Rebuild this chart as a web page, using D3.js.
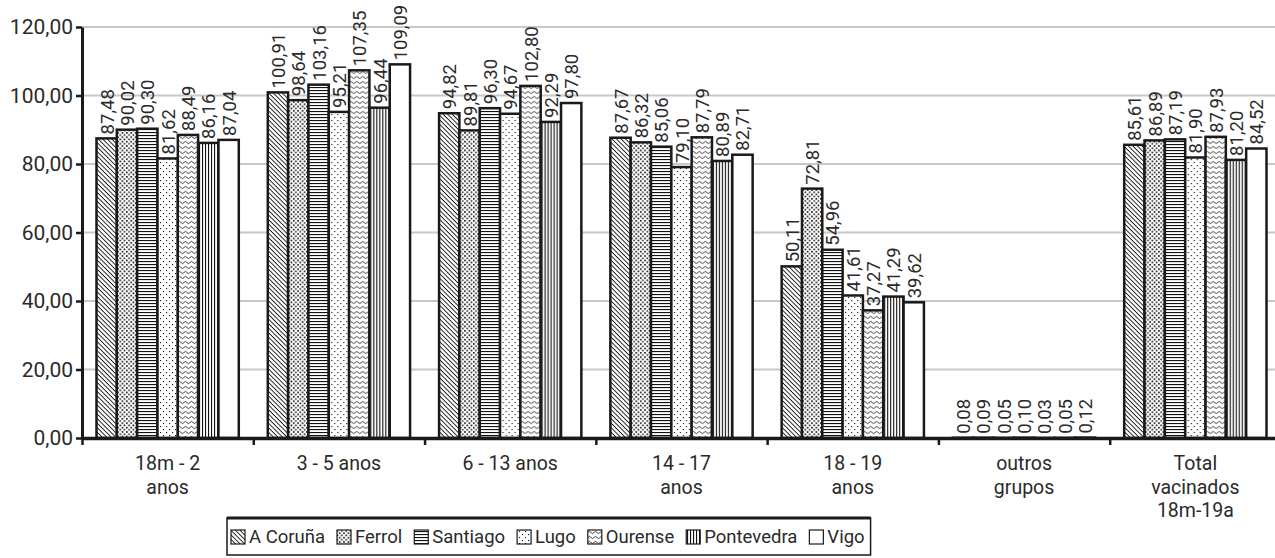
<!DOCTYPE html>
<html>
<head>
<meta charset="utf-8">
<script src="https://cdn.jsdelivr.net/npm/d3@7"></script>
<style>
  html, body { margin: 0; padding: 0; background: #fff; }
  svg { display: block; font-family: Roboto, "Liberation Sans", sans-serif; }
</style>
</head>
<body>
<svg id="chart" width="1275" height="558"></svg>
<script>
// categories on the x axis (each may hold several lines)
const groups = [
  ["18m - 2", "anos"],
  ["3 - 5 anos"],
  ["6 - 13 anos"],
  ["14 - 17", "anos"],
  ["18 - 19", "anos"],
  ["outros", "grupos"],
  ["Total", "vacinados", "18m-19a"]
];
const series = ["A Coruña", "Ferrol", "Santiago", "Lugo", "Ourense", "Pontevedra", "Vigo"];

// one array per area, in group order
const coruna     = [87.48, 100.91, 94.82, 87.67, 50.11, 0.08, 85.61];
const ferrol     = [90.02,  98.64, 89.81, 86.32, 72.81, 0.09, 86.89];
const santiago   = [90.30, 103.16, 96.30, 85.06, 54.96, 0.05, 87.19];
const lugo       = [81.62,  95.21, 94.67, 79.10, 41.61, 0.10, 81.90];
const ourense    = [88.49, 107.35, 102.80, 87.79, 37.27, 0.03, 87.93];
const pontevedra = [86.16,  96.44, 92.29, 80.89, 41.29, 0.05, 81.20];
const vigo       = [87.04, 109.09, 97.80, 82.71, 39.62, 0.12, 84.52];
const values = [coruna, ferrol, santiago, lugo, ourense, pontevedra, vigo];

const yTicks = [0, 20, 40, 60, 80, 100, 120];

const svg = d3.select("#chart");
const mLeft = 82, mRight = 1281, mTop = 27, mBottom = 438;
const ink = "#2a2a2a";

const fmt = v => d3.format(".2f")(v).replace(".", ",");

// patterns
const defs = svg.append("defs");
let p = defs.append("pattern").attr("id", "p0").attr("patternUnits", "userSpaceOnUse")
  .attr("width", 3.2).attr("height", 3.2).attr("patternTransform", "rotate(45)");
p.append("rect").attr("width", 3.2).attr("height", 3.2).attr("fill", "#fff");
p.append("rect").attr("width", 3.2).attr("height", 0.9).attr("fill", "#111");

p = defs.append("pattern").attr("id", "p1").attr("patternUnits", "userSpaceOnUse")
  .attr("width", 4.4).attr("height", 4.4);
p.append("rect").attr("width", 4.4).attr("height", 4.4).attr("fill", "#fff");
p.append("rect").attr("width", 1.6).attr("height", 1.6).attr("fill", "#111");
p.append("rect").attr("x", 2.2).attr("y", 2.2).attr("width", 1.6).attr("height", 1.6).attr("fill", "#111");

p = defs.append("pattern").attr("id", "p2").attr("patternUnits", "userSpaceOnUse")
  .attr("width", 4).attr("height", 3);
p.append("rect").attr("width", 4).attr("height", 3).attr("fill", "#fff");
p.append("rect").attr("width", 4).attr("height", 1.1).attr("fill", "#111");

p = defs.append("pattern").attr("id", "p3").attr("patternUnits", "userSpaceOnUse")
  .attr("width", 6).attr("height", 6);
p.append("rect").attr("width", 6).attr("height", 6).attr("fill", "#fff");
p.append("rect").attr("width", 1.1).attr("height", 1.1).attr("fill", "#111");
p.append("rect").attr("x", 3).attr("y", 3).attr("width", 1.1).attr("height", 1.1).attr("fill", "#111");

p = defs.append("pattern").attr("id", "p4").attr("patternUnits", "userSpaceOnUse")
  .attr("width", 6).attr("height", 5);
p.append("rect").attr("width", 6).attr("height", 5).attr("fill", "#fff");
p.append("path").attr("d", "M0,2.5 Q1.5,0.3 3,2.5 T6,2.5").attr("fill", "none")
  .attr("stroke", "#111").attr("stroke-width", 0.8);

p = defs.append("pattern").attr("id", "p5").attr("patternUnits", "userSpaceOnUse")
  .attr("width", 3).attr("height", 4);
p.append("rect").attr("width", 3).attr("height", 4).attr("fill", "#fff");
p.append("rect").attr("width", 1.1).attr("height", 4).attr("fill", "#111");

const fills = ["url(#p0)", "url(#p1)", "url(#p2)", "url(#p3)", "url(#p4)", "url(#p5)", "#fff"];

// scales
const x0 = d3.scaleBand().domain(d3.range(groups.length)).range([mLeft, mRight]).padding(0);
const x1 = d3.scaleBand().domain(d3.range(series.length))
  .range([14.5, x0.bandwidth() - 14.5]).padding(0);
const y = d3.scaleLinear().domain([0, 120]).range([mBottom, mTop]);
const xi = d3.scaleLinear().domain([0, groups.length]).range([mLeft, mRight]);

// gridlines
svg.append("g").selectAll("line").data(yTicks.filter(d => d > 0)).join("line")
  .attr("x1", mLeft).attr("x2", 1275)
  .attr("y1", d => y(d)).attr("y2", d => y(d))
  .attr("stroke", "#c8c8c8").attr("stroke-width", 2);

// bars
const gGroups = svg.append("g").selectAll("g").data(groups).join("g")
  .attr("transform", (d, i) => `translate(${x0(i)},0)`);

gGroups.each(function(_, gi) {
  const g = d3.select(this);
  const rows = series.map((s, si) => ({ si, v: values[si][gi] }));
  g.selectAll("rect").data(rows).join("rect")
    .attr("x", d => x1(d.si))
    .attr("y", d => y(d.v))
    .attr("width", x1.bandwidth())
    .attr("height", d => y(0) - y(d.v))
    .attr("fill", d => fills[d.si])
    .attr("stroke", "#1a1a1a").attr("stroke-width", 2.5);
  g.selectAll("text.val").data(rows).join("text")
    .attr("class", "val")
    .attr("transform", d => `translate(${x1(d.si) + x1.bandwidth() / 2 + 1},${y(d.v) - 4}) rotate(-90)`)
    .attr("dominant-baseline", "central")
    .attr("font-size", 18.5).attr("fill", ink)
    .text(d => fmt(d.v));
});

// y axis
const yAxis = svg.append("g").attr("transform", `translate(${mLeft},0)`)
  .call(d3.axisLeft(y).tickValues(yTicks).tickSize(6).tickSizeOuter(0).tickFormat(fmt));
yAxis.select(".domain").attr("stroke", "#1a1a1a").attr("stroke-width", 3);
yAxis.selectAll(".tick line").attr("stroke", "#1a1a1a").attr("stroke-width", 2.5);
yAxis.selectAll(".tick text").attr("font-size", 21).attr("fill", ink)
  .attr("font-family", "Roboto, sans-serif").attr("x", -9);

// x axis
const xAxis = svg.append("g").attr("transform", `translate(0,${mBottom})`)
  .call(d3.axisBottom(xi).tickValues(d3.range(groups.length + 1)).tickSize(7).tickSizeOuter(0).tickFormat(""));
xAxis.select(".domain").attr("stroke", "#1a1a1a").attr("stroke-width", 3.5);
xAxis.selectAll(".tick line").attr("stroke", "#1a1a1a").attr("stroke-width", 2.5);

// category labels
const catG = svg.append("g").selectAll("text").data(groups).join("text")
  .attr("x", (d, i) => x0(i) + x0.bandwidth() / 2)
  .attr("y", 470)
  .attr("text-anchor", "middle")
  .attr("font-size", 19.5).attr("fill", ink);
catG.selectAll("tspan").data(d => d).join("tspan")
  .attr("x", function() { return this.parentNode.getAttribute("x"); })
  .attr("dy", (d, i) => i === 0 ? 0 : 23.5)
  .text(d => d);

// legend
const leg = svg.append("g");
const legBox = leg.append("rect").attr("fill", "#fff").attr("stroke", "#1a1a1a").attr("stroke-width", 1.5);
let lx = 231;
const ly = 537;
series.forEach((s, i) => {
  leg.append("rect").attr("x", lx).attr("y", ly - 7).attr("width", 14).attr("height", 14)
    .attr("fill", fills[i]).attr("stroke", "#1a1a1a").attr("stroke-width", 1.2);
  const t = leg.append("text").attr("x", lx + 18).attr("y", ly).attr("dominant-baseline", "central")
    .attr("font-size", 18.5).attr("fill", ink).text(s);
  lx += 18 + t.node().getComputedTextLength() + 12;
});
legBox.attr("x", 227).attr("y", 518).attr("width", lx - 227 - 6).attr("height", 37);
leg.append("line").attr("x1", 227).attr("x2", lx - 6).attr("y1", 518).attr("y2", 518)
  .attr("stroke", "#1a1a1a").attr("stroke-width", 3);
</script>
</body>
</html>
